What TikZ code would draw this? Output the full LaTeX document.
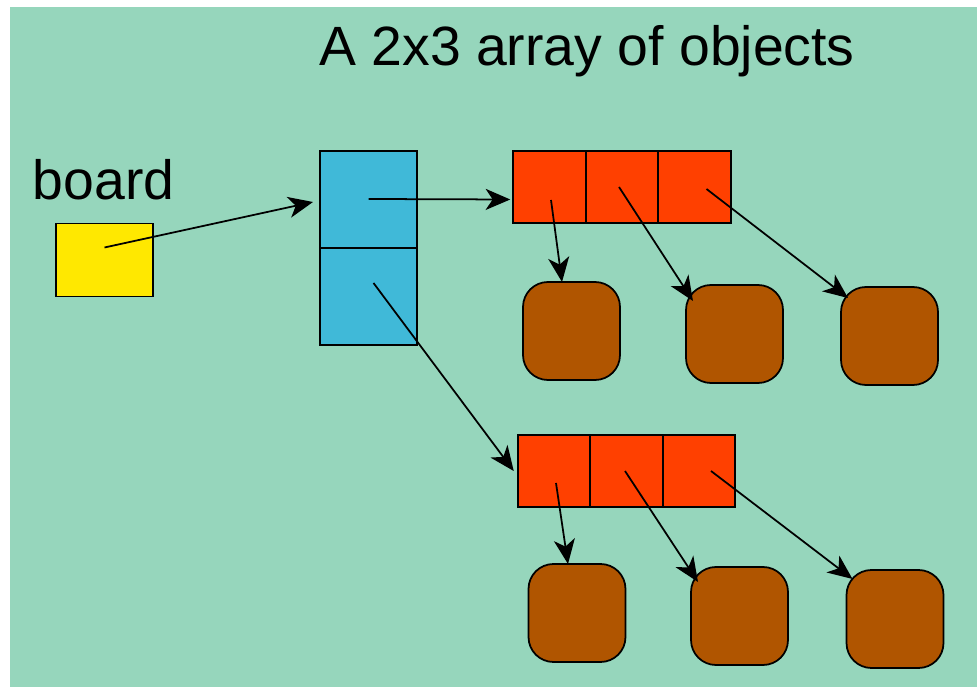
\documentclass[tikz,border=0pt]{standalone}
\usepackage{fontspec}
\setmainfont{Liberation Sans}
\usetikzlibrary{positioning, arrows.meta}

\definecolor{mintbg}{RGB}{150,214,188}
\definecolor{boardyellow}{RGB}{255,232,0}
\definecolor{rowblue}{RGB}{64,185,216}
\definecolor{cellred}{RGB}{255,64,0}
\definecolor{objbrown}{RGB}{176,85,0}

\begin{document}
\begin{tikzpicture}[
    bigtext/.style={font=\fontsize{31.5}{36}\selectfont, inner sep=0pt},
    box/.style={draw, line width=1pt, outer sep=0pt, inner sep=0pt},
    bluecell/.style={box, fill=rowblue, minimum width=1.94cm, minimum height=1.94cm},
    redcell/.style={box, fill=cellred, minimum width=1.45cm, minimum height=1.44cm},
    obj/.style={box, fill=objbrown, rounded corners=0.5cm, minimum width=1.94cm, minimum height=1.96cm},
    ptr/.style={line width=1pt, -{Stealth[length=14pt, width=12pt, inset=4pt]}}
]
% background
\fill[white] (0,0) rectangle (19.54,13.74);
\fill[mintbg] (0.2,0) rectangle (19.54,13.6);

% title and variable name
\node[bigtext, anchor=base] (title) at (11.74,12.42) {A 2x3 array of objects};
\node[bigtext, anchor=base] (name) at (2.07,9.74) {board};

% the variable
\node[box, fill=boardyellow, minimum width=1.94cm, minimum height=1.46cm] (board) at (2.09,8.54) {};

% array of rows
\node[bluecell] (b1) at (7.37,9.75) {};
\node[bluecell, below=0pt of b1] (b2) {};

% row 0
\node[redcell] (r1a) at (10.99,10.0) {};
\node[redcell, right=0pt of r1a] (r1b) {};
\node[redcell, right=0pt of r1b] (r1c) {};

% row 1
\node[redcell] (r2a) at (11.08,4.32) {};
\node[redcell, right=0pt of r2a] (r2b) {};
\node[redcell, right=0pt of r2b] (r2c) {};

% objects
\node[obj] (o1) at (11.43,7.12) {};
\node[obj] (o2) at (14.69,7.06) {};
\node[obj] (o3) at (17.79,7.02) {};
\node[obj] (o4) at (11.54,1.48) {};
\node[obj] (o5) at (14.79,1.42) {};
\node[obj] (o6) at (17.90,1.36) {};

% draw pointers
\draw[ptr] ([yshift=0.25cm]board.center) -- ([shift={(-0.14,-0.05)}]b1.west);
\draw[ptr] ([yshift=0.01cm]b1.center) -- ([shift={(-0.06,0.0)}]b1.center -| r1a.west);
\draw[ptr] ([shift={(0.1,0.27)}]b2.center) -- ([xshift=-0.08cm]r2a.west);

\draw[ptr] ([shift={(0.03,-0.26)}]r1a.center) -- ([xshift=-0.19cm]o1.north);
\draw[ptr] ([xshift=-0.06cm]r1b.center) -- ([shift={(0.14,-0.32)}]o2.north west);
\draw[ptr] ([shift={(0.24,-0.04)}]r1c.center) -- ([shift={(0.14,-0.22)}]o3.north west);

\draw[ptr] ([shift={(0.04,-0.24)}]r2a.center) -- ([xshift=-0.18cm]o4.north);
\draw[ptr] ([xshift=-0.03cm]r2b.center) -- ([shift={(0.14,-0.3)}]o5.north west);
\draw[ptr] ([xshift=0.24cm]r2c.center) -- ([shift={(0.12,-0.18)}]o6.north west);
\end{tikzpicture}
\end{document}
